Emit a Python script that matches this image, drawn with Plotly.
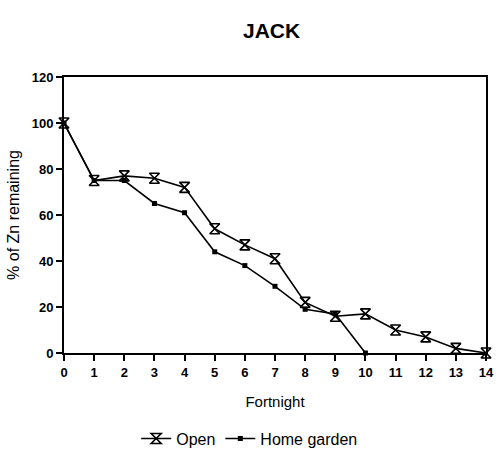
import plotly.graph_objects as go

fortnight = list(range(15))
open_pct = [100, 75, 77, 76, 72, 54, 47, 41, 22, 16, 17, 10, 7, 2, 0]
home_fortnight = list(range(11))
home_pct = [100, 75, 75, 65, 61, 44, 38, 29, 19, 17, 0]
y_ticks = [0, 20, 40, 60, 80, 100, 120]

font_family = "Liberation Sans, Arial, sans-serif"

fig = go.Figure()
fig.add_trace(go.Scatter(
    x=fortnight, y=open_pct, name="Open", mode="lines+markers",
    line=dict(color="black", width=1.6),
    marker=dict(symbol="hourglass-open", size=10, color="black", line=dict(width=1.6)),
    cliponaxis=False,
))
fig.add_trace(go.Scatter(
    x=home_fortnight, y=home_pct, name="Home garden", mode="lines+markers",
    line=dict(color="black", width=1.6),
    marker=dict(symbol="square", size=5, color="black"),
    cliponaxis=False,
))

fig.update_layout(
    width=503, height=469,
    margin=dict(l=64, r=9, t=77, b=116),
    paper_bgcolor="white", plot_bgcolor="white",
    font=dict(family=font_family, color="black", size=13),
    title=dict(text="<b>JACK</b>", x=0.54, xanchor="center", y=0.935, yanchor="middle",
               font=dict(size=21, family=font_family)),
    showlegend=True,
    legend=dict(orientation="h", x=0.44, xanchor="center", y=-0.31, yanchor="middle",
                font=dict(size=16), itemwidth=30, tracegroupgap=0),
)
fig.update_xaxes(
    range=[0, 14], tickmode="array", tickvals=fortnight,
    ticktext=[f"<b>{v}</b>" for v in fortnight],
    ticks="outside", ticklen=6, tickwidth=1.5, tickcolor="black",
    showline=True, linecolor="black", linewidth=2, mirror=True,
    showgrid=False, zeroline=False,
    tickfont=dict(size=13, family=font_family),
    title=dict(text="Fortnight", font=dict(size=15), standoff=18),
)
fig.update_yaxes(
    range=[0, 120], tickmode="array", tickvals=y_ticks,
    ticktext=[f"<b>{v}</b>" for v in y_ticks],
    ticks="outside", ticklen=6, tickwidth=1.5, tickcolor="black",
    showline=True, linecolor="black", linewidth=2, mirror=True,
    showgrid=False, zeroline=False,
    tickfont=dict(size=13, family=font_family),
    title=dict(text="% of Zn remaining", font=dict(size=16), standoff=8),
)

fig.write_html("out.html")
